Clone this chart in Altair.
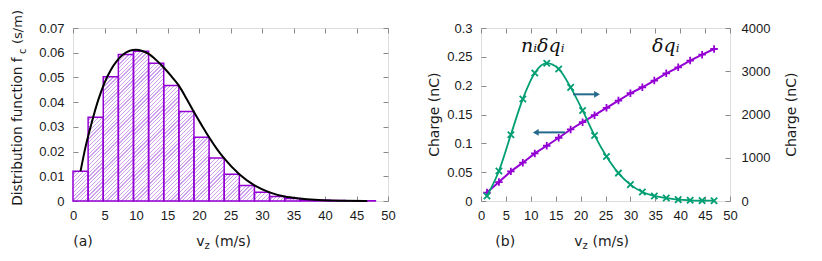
import altair as alt
import pandas as pd

# ---------------- Panel (a): histogram + distribution curve ----------------
bin_lo = [0.0, 2.4, 4.8, 7.2, 9.6, 12.0, 14.4, 16.8, 19.2, 21.6,
          24.0, 26.4, 28.8, 31.2, 33.6, 36.0, 38.4, 40.8, 43.2, 45.6]
bin_hi = [2.4, 4.8, 7.2, 9.6, 12.0, 14.4, 16.8, 19.2, 21.6, 24.0,
          26.4, 28.8, 31.2, 33.6, 36.0, 38.4, 40.8, 43.2, 45.6, 48.0]
hist_f = [0.0120, 0.0339, 0.0503, 0.0593, 0.0606, 0.0557, 0.0467, 0.0362, 0.0258, 0.0174,
          0.0108, 0.0063, 0.0035, 0.0018, 0.0010, 0.0005, 0.0003, 0.0002, 0.0001, 0.0001]

curve_v = [1.2, 2.0, 3.0, 4.0, 5.0, 6.0, 7.0, 8.0, 9.0, 10.0, 11.0, 12.0, 13.3, 14.4,
           15.6, 16.8, 18.0, 19.2, 20.4, 21.6, 22.8, 24.0, 26.4, 28.8, 31.2, 33.6,
           36.0, 38.4, 40.8, 43.2, 46.7]
curve_f = [0.0121, 0.0220, 0.0320, 0.0408, 0.0478, 0.0530, 0.0568, 0.0594, 0.0608, 0.0612,
           0.0607, 0.0595, 0.0568, 0.0540, 0.0505, 0.0467, 0.0415, 0.0360, 0.0308, 0.0258,
           0.0212, 0.0172, 0.0108, 0.0063, 0.0035, 0.0018, 0.0010, 0.0005, 0.0002, 0.0001, 0.0]

# ---------------- Panel (b): charge ----------------
vz_b = [1.2, 3.6, 6.0, 8.4, 10.8, 13.2, 15.6, 18.0, 20.4, 22.8,
        25.2, 27.6, 30.0, 32.4, 34.8, 37.2, 39.6, 42.0, 44.4, 46.8]
ni_dq = [0.0087, 0.052, 0.115, 0.177, 0.222, 0.239, 0.229, 0.197, 0.157, 0.1137,
         0.0773, 0.0484, 0.0284, 0.0156, 0.0087, 0.0052, 0.0024, 0.0012, 0.0007, 0.0005]
dq = [194, 438, 685, 886, 1100, 1278, 1462, 1654, 1822, 1984,
      2154, 2323, 2491, 2630, 2784, 2953, 3091, 3246, 3384, 3515]

arrow_x0 = [18.5, 16.9]
arrow_x1 = [23.3, 11.0]
arrow_y = [0.185, 0.119]
arrow_shape = ["triangle-right", "triangle-left"]

math_text = ["nᵢδqᵢ", "δqᵢ"]
math_x = [12.4, 37.1]
math_y = [0.2578, 0.2578]

# ---------------- style ----------------
W_A, H_A = 315, 173
W_B, H_B = 249, 173
FRAME = "#8a8a8a"
PURPLE = "#9400d3"
HATCH = "#cf9ff0"
GREEN = "#009e73"
ARROW = "#256a8e"
TICKFONT = "Liberation Sans"
TFONT = "DejaVu Sans"
TCOL = "#1a1a1a"


def hatch(val):
    # diagonal "/" stripes inside each bar (gradient in bounding-box units)
    w = (2.4 / 50) * W_A
    h = max(val / 0.07 * H_A, 0.5)
    s = (w + h) / (w * w + h * h)
    period = 3.8
    n = max(1, int(round((w + h) / period)))
    frac = 0.33
    stops = []
    for k in range(n):
        t0 = k / n
        t1 = (k + 1 - frac) / n
        t2 = (k + 1) / n
        stops += [{"offset": t0, "color": "#ffffff"}, {"offset": t1, "color": "#ffffff"},
                  {"offset": t1, "color": HATCH}, {"offset": t2, "color": HATCH}]
    return {"gradient": "linear", "x1": 0, "y1": 0, "x2": w * s, "y2": h * s, "stops": stops}


def ax(orient, values, labels=True, pad=8, fmt="~g"):
    kw = dict(orient=orient, values=values, title=None, domain=False, grid=False,
              tickSize=5, offset=-5, tickColor=FRAME, tickWidth=1)
    if labels:
        kw.update(labels=True, format=fmt, labelPadding=pad, labelFlush=False,
                  labelOverlap=False, labelFont=TICKFONT, labelFontSize=13, labelColor=TCOL)
    else:
        kw.update(labels=False)
    return alt.Axis(**kw)


one = pd.DataFrame({"a": [0]})


def txt(s, x, y, size=14, angle=0, align="left", font=TFONT, baseline="alphabetic"):
    return alt.Chart(one).mark_text(text=s, font=font, fontSize=size, angle=angle, align=align,
                                    baseline=baseline, color=TCOL).encode(
        x=alt.value(x), y=alt.value(y))


xticks = list(range(0, 51, 5))

# ---------- left panel ----------
dfa = pd.DataFrame({"lo": bin_lo, "hi": bin_hi, "f": hist_f})
dfa["hatch"] = [hatch(v) for v in hist_f]
dfc = pd.DataFrame({"v": curve_v, "f": curve_f})

xa = alt.Scale(domain=[0, 50], nice=False, zero=False)
ya = alt.Scale(domain=[0, 0.07], nice=False)
ya_ticks = [0, 0.01, 0.02, 0.03, 0.04, 0.05, 0.06, 0.07]

bars_fill = alt.Chart(dfa).mark_rect(strokeWidth=0).encode(
    x=alt.X("lo:Q", scale=xa, axis=ax("bottom", xticks, pad=8)),
    x2="hi:Q",
    y=alt.Y("f:Q", scale=ya, axis=ax("left", ya_ticks, pad=9)),
    y2=alt.datum(0),
    fill=alt.Fill("hatch:N", scale=None, legend=None),
)
bars_line = alt.Chart(dfa).mark_rect(fillOpacity=0, stroke=PURPLE, strokeWidth=1.5).encode(
    x=alt.X("lo:Q", scale=xa, axis=None), x2="hi:Q",
    y=alt.Y("f:Q", scale=ya, axis=None), y2=alt.datum(0),
)
curve = alt.Chart(dfc).mark_line(color="black", strokeWidth=2, interpolate="monotone").encode(
    x=alt.X("v:Q", scale=xa, axis=None), y=alt.Y("f:Q", scale=ya, axis=None))
mirror_a = alt.Chart(dfc).mark_line(opacity=0).encode(
    x=alt.X("v:Q", scale=xa, axis=ax("top", xticks, labels=False)),
    y=alt.Y("f:Q", scale=ya, axis=ax("right", ya_ticks, labels=False)))

left_texts = [
    txt("(a)", 0.3, 217.7),
    txt("v", 123.3, 217.7),
    txt("z", 131.4, 221.0, size=10),
    txt("(m/s)", 141.5, 217.7),
    txt("Distribution function f", -51, 177.7, angle=270, size=13.6),
    txt("c", -47.5, 26.0, angle=270, size=10),
    txt("(s/m)", -51, 16.0, angle=270, size=13),
]

left = alt.layer(bars_fill, bars_line, curve, mirror_a, *left_texts).resolve_axis(
    x="independent", y="independent").properties(width=W_A, height=H_A)

# ---------- right panel ----------
dfb = pd.DataFrame({"v": vz_b, "n": ni_dq, "q": dq})
dfar = pd.DataFrame({"x0": arrow_x0, "x1": arrow_x1, "y": arrow_y, "shape": arrow_shape})
dfm = pd.DataFrame({"t": math_text, "x": math_x, "y": math_y})

xb = alt.Scale(domain=[0, 50], nice=False, zero=False)
yl = alt.Scale(domain=[0, 0.3], nice=False)
yr = alt.Scale(domain=[0, 4000], nice=False)
yl_ticks = [0, 0.05, 0.1, 0.15, 0.2, 0.25, 0.3]
yr_ticks = [0, 1000, 2000, 3000, 4000]

PLUS = "M-1,0L1,0M0,-1L0,1"
CROSS = "M-1,-1L1,1M-1,1L1,-1"

mag_line = alt.Chart(dfb).mark_line(color=PURPLE, strokeWidth=2).encode(
    x=alt.X("v:Q", scale=xb, axis=None),
    y=alt.Y("q:Q", scale=yr, axis=ax("right", yr_ticks, pad=11, fmt="d")))
mag_pts = alt.Chart(dfb).mark_point(shape=PLUS, filled=False, color=PURPLE, strokeWidth=1.8,
                                    size=56, opacity=1).encode(
    x=alt.X("v:Q", scale=xb, axis=None), y=alt.Y("q:Q", scale=yr, axis=None))
grn_line = alt.Chart(dfb).mark_line(color=GREEN, strokeWidth=1.8, interpolate="monotone").encode(
    x=alt.X("v:Q", scale=xb, axis=ax("bottom", xticks, pad=8)),
    y=alt.Y("n:Q", scale=yl, axis=ax("left", yl_ticks, pad=9)))
grn_pts = alt.Chart(dfb).mark_point(shape=CROSS, filled=False, color=GREEN, strokeWidth=1.8,
                                    size=40, opacity=1).encode(
    x=alt.X("v:Q", scale=xb, axis=None), y=alt.Y("n:Q", scale=yl, axis=None))
arr_shaft = alt.Chart(dfar).mark_rule(color=ARROW, strokeWidth=2).encode(
    x=alt.X("x0:Q", scale=xb, axis=None), x2="x1:Q",
    y=alt.Y("y:Q", scale=yl, axis=None))
arr_head = alt.Chart(dfar).mark_point(filled=True, color=ARROW, size=45, opacity=1).encode(
    x=alt.X("x1:Q", scale=xb, axis=None), y=alt.Y("y:Q", scale=yl, axis=None),
    shape=alt.Shape("shape:N", scale=None, legend=None))
math = alt.Chart(dfm).mark_text(font="DejaVu Serif", fontStyle="italic", fontSize=19,
                                baseline="alphabetic", align="center", color="#111111").encode(
    x=alt.X("x:Q", scale=xb, axis=None), y=alt.Y("y:Q", scale=yl, axis=None), text="t:N")
mirror_b = alt.Chart(dfb).mark_line(opacity=0).encode(
    x=alt.X("v:Q", scale=xb, axis=ax("top", xticks, labels=False)),
    y=alt.Y("n:Q", scale=yl, axis=None))

right_texts = [
    txt("(b)", 14.3, 217.7),
    txt("v", 93.3, 217.7),
    txt("z", 101.4, 221.0, size=10),
    txt("(m/s)", 111.5, 217.7),
    txt("Charge (nC)", -41.7, 86.7, angle=270, align="center"),
    txt("Charge (nC)", W_B + 66, 86.7, angle=270, align="center"),
]

right = alt.layer(mag_line, mag_pts, grn_line, grn_pts, arr_shaft, arr_head, math, mirror_b,
                  *right_texts).resolve_scale(y="independent").resolve_axis(
    x="independent", y="independent").properties(width=W_B, height=H_B)

chart = alt.hconcat(left, right, spacing=31).properties(
    padding={"left": 2, "top": 1, "right": 0, "bottom": 0}
).configure_view(stroke=FRAME, strokeWidth=1).configure(background="white")

chart.save("out.html", embed_options={"renderer": "svg", "actions": False})
